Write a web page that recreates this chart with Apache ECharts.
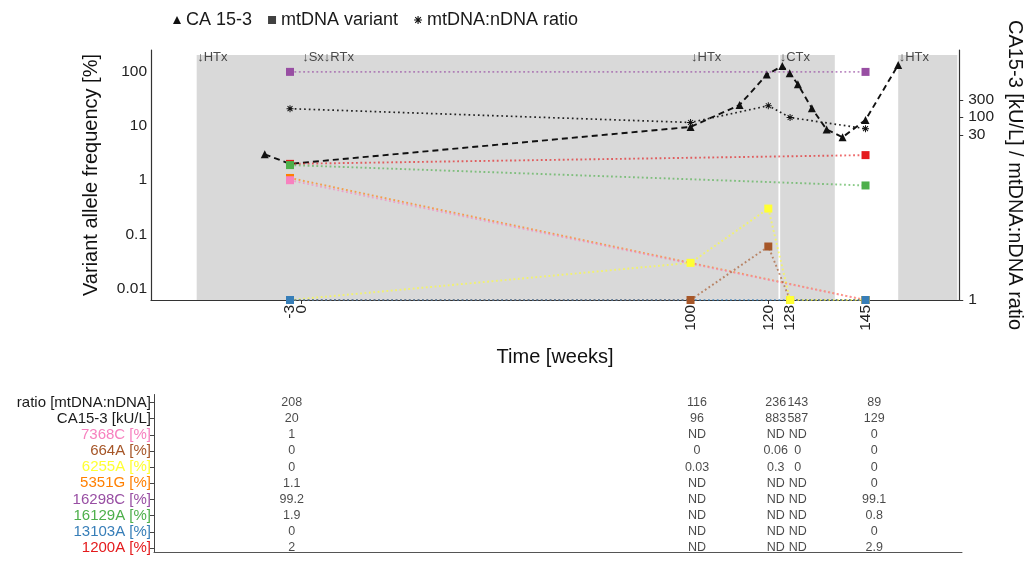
<!DOCTYPE html>
<html><head><meta charset="utf-8">
<script src="https://cdn.jsdelivr.net/npm/echarts@6/dist/echarts.min.js"></script>
<style>html,body{margin:0;padding:0;background:#fff}#c{width:1033px;height:564px}</style>
</head><body><div id="c"></div>
<script>
// ---------------- data ----------------
// sampling time points (x position in weeks as plotted) and their axis labels
const sampleWeeks  = [-3, 100, 120, 125.6, 145];
const xTickWeeks   = [-3, 0, 100, 120, 125.6, 145];
const xTickLabels  = ['-3', '0', '100', '120', '128', '145'];

// variant allele frequencies [%] per sample (null = ND, not determined)
const v7368C  = [1,    null, null, null, 0];
const v664A   = [0,    0,    0.06, 0,    0];
const v6255A  = [0,    0.03, 0.3,  0,    0];
const v5351G  = [1.1,  null, null, null, 0];
const v16298C = [99.2, null, null, null, 99.1];
const v16129A = [1.9,  null, null, null, 0.8];
const v13103A = [0,    null, null, null, 0];
const v1200A  = [2,    null, null, null, 2.9];

// mtDNA:nDNA ratio and CA15-3 [kU/L] per sample (table)
const ratioValues   = [208, 116, 236, 143, 89];
const caTableValues = [20, 96, 883, 587, 129];

// CA 15-3 time course [kU/L] (denser measurements)
const caWeeks  = [-9.5, -3, 100, 112.6, 119.6, 123.6, 125.5, 127.6, 131.2, 135.0, 139.1, 145, 153.4];
const caValues = [30,   20, 96,  243,   883,   1274,  934,   587,   211,   86,    62,    129, 1330];

// treatment annotations
const treatWeeks  = [-27, 0, 100, 122.8, 153.4];
const treatLabels = ['↓HTx', '↓Sx↓RTx', '↓HTx', '↓CTx', '↓HTx'];
const treatPeriods = [[-27, 122.6], [123.05, 137.1], [153.4, 168.6]];

// axis tick labels
const leftTickValues  = [0.01, 0.1, 1, 10, 100];
const leftTickLabels  = ['0.01', '0.1', '1', '10', '100'];
const rightTickLabels = ['1', '30', '100', '300'];

// table rows
const tableRows = ['ratio [mtDNA:nDNA]', 'CA15-3 [kU/L]', '7368C [%]', '664A [%]', '6255A [%]',
                   '5351G [%]', '16298C [%]', '16129A [%]', '13103A [%]', '1200A [%]'];

// ---------------- layout / scales ----------------
const FONT = "'Liberation Sans', Arial, sans-serif";
const X_MIN = -38.75, X_MAX = 169.1;
const Y_MIN = 0.0062, Y_MAX = 251;          // left log axis range
const LOG_MIN = Math.log10(Y_MIN), LOG_MAX = Math.log10(Y_MAX);
const SEC_FACTOR = 10;                       // CA15-3 and ratio drawn as value / 10 on the left scale
const GREY_TOP = 203;
const ANN_Y = 187;
// positions (on the left scale, log10 units) where the right-axis labels sit in the reference
const rightTickAt = [LOG_MIN, 0.831, 1.163, 1.477];

const variantDefs = [
  { name: '1200A',  color: '#E41A1C', values: v1200A },
  { name: '5351G',  color: '#FF7F00', values: v5351G },
  { name: '7368C',  color: '#F781BF', values: v7368C },
  { name: '16129A', color: '#4DAF4A', values: v16129A },
  { name: '664A',   color: '#A65628', values: v664A },
  { name: '6255A',  color: '#FFFF33', values: v6255A },
  { name: '13103A', color: '#377EB8', values: v13103A },
  { name: '16298C', color: '#984EA3', values: v16298C }
];
const rowColors = ['#1a1a1a', '#1a1a1a', '#F781BF', '#A65628', '#FFFF33', '#FF7F00', '#984EA3', '#4DAF4A', '#377EB8', '#E41A1C'];
const tableValues = [ratioValues, caTableValues, v7368C, v664A, v6255A, v5351G, v16298C, v16129A, v13103A, v1200A];

const ASTERISK = 'path://M-5,-0.7L5,-0.7L5,0.7L-5,0.7Z M-0.7,-5L0.7,-5L0.7,5L-0.7,5Z M-4.03,-3.04L-3.04,-4.03L4.03,3.04L3.04,4.03Z M3.04,-4.03L4.03,-3.04L-3.04,4.03L-4.03,3.04Z';

function nearestIdx(arr, v) {
  let bi = 0, bd = Infinity;
  arr.forEach((a, i) => { const d = Math.abs(a - v); if (d < bd) { bd = d; bi = i; } });
  return bi;
}
const tickLabelFmt = v => xTickLabels[nearestIdx(xTickWeeks, v)];
// ticks split over two axes so that the close "-3" and "0" labels are both kept
const xTicksA = xTickWeeks.filter((_, i) => i !== 1);
const xTicksB = [xTickWeeks[1]];

// ---------------- series ----------------
const series = [];

// shaded treatment periods
series.push({
  type: 'line', xAxisIndex: 0, yAxisIndex: 0, z: 1, silent: true,
  data: [[X_MIN, Y_MIN]], showSymbol: false, lineStyle: { opacity: 0 },
  markArea: {
    silent: true, itemStyle: { color: '#D9D9D9' },
    data: treatPeriods.map(p => [{ xAxis: p[0], yAxis: GREY_TOP }, { xAxis: p[1], yAxis: Y_MIN }])
  }
});

// ratio
series.push({
  name: 'mtDNA:nDNA ratio', type: 'line', xAxisIndex: 0, yAxisIndex: 0, z: 3,
  data: sampleWeeks.map((w, i) => [w, ratioValues[i] / SEC_FACTOR]),
  symbol: ASTERISK, symbolSize: 7,
  itemStyle: { color: '#111', borderWidth: 0 },
  lineStyle: { color: '#222', width: 1.7, type: [1.7, 3] }
});

// CA 15-3
series.push({
  name: 'CA 15-3', type: 'line', xAxisIndex: 0, yAxisIndex: 0, z: 3,
  data: caWeeks.map((w, i) => [w, caValues[i] / SEC_FACTOR]),
  symbol: 'triangle', symbolSize: 8,
  itemStyle: { color: '#111', borderWidth: 0 },
  lineStyle: { color: '#111', width: 1.9, type: [6, 4] }
});

// variant lines
variantDefs.forEach(v => {
  const data = [];
  sampleWeeks.forEach((w, i) => {
    const val = v.values[i];
    if (val === null) return;
    data.push([w, val === 0 ? Y_MIN : val]);   // 0 on log scale -> panel edge
  });
  series.push({
    name: v.name, type: 'line', xAxisIndex: 0, yAxisIndex: 0, z: 4, clip: false,
    data: data, symbol: 'rect', symbolSize: 8, showAllSymbol: true,
    itemStyle: { color: v.color, borderWidth: 0 },
    lineStyle: { color: v.color, width: 1.9, type: [1.8, 2.6], opacity: 0.65 }
  });
});

// legend-only entry for variants
series.push({
  name: 'mtDNA variant', type: 'scatter', xAxisIndex: 0, yAxisIndex: 0,
  data: [], symbol: 'rect', itemStyle: { color: '#111' }
});

// treatment annotations
series.push({
  type: 'scatter', xAxisIndex: 0, yAxisIndex: 0, z: 6, silent: true,
  data: treatWeeks.map((w, i) => [w, ANN_Y, treatLabels[i]]),
  symbolSize: 1, itemStyle: { color: 'rgba(0,0,0,0)' },
  label: { show: true, position: 'right', distance: 0, formatter: p => p.data[2],
           fontSize: 13, color: '#222', fontFamily: FONT }
});

// table text
const tableData = [];
tableValues.forEach((row, r) => {
  row.forEach((val, c) => {
    tableData.push([sampleWeeks[c], r, val === null ? 'ND' : String(val)]);
  });
});
series.push({
  type: 'scatter', xAxisIndex: 1, yAxisIndex: 3, silent: true,
  data: tableData, symbolSize: 1, itemStyle: { color: 'rgba(0,0,0,0)' },
  label: { show: true, position: 'inside', formatter: p => p.data[2],
           fontSize: 12.5, color: '#1a1a1a', fontFamily: FONT }
});

// ---------------- option ----------------
const X2_LEFT = 154, X2_RIGHT = 962;
const pxPerWeek = (969 - 151) / (X_MAX - X_MIN);
const X2_MIN = X_MIN + (X2_LEFT - 151) / pxPerWeek;
const X2_MAX = X_MAX - (969 - X2_RIGHT) / pxPerWeek;

const rich = {};
rowColors.forEach((c, i) => { rich['r' + i] = { color: c, fontSize: 15, fontFamily: FONT }; });

const xLabelBase = { show: true, rotate: 90, fontSize: 15.5, color: '#222', margin: 5,
                     showMinLabel: true, showMaxLabel: true, hideOverlap: false, formatter: tickLabelFmt };

const option = {
  animation: false,
  backgroundColor: '#fff',
  textStyle: { fontFamily: FONT },
  legend: {
    left: 168, top: 6, itemWidth: 8, itemHeight: 8, itemGap: 16,
    textStyle: { fontSize: 18, color: '#1a1a1a', fontFamily: FONT },
    data: [
      { name: 'CA 15-3', icon: 'triangle' },
      { name: 'mtDNA variant', icon: 'rect' },
      { name: 'mtDNA:nDNA ratio', icon: ASTERISK }
    ]
  },
  grid: [
    { left: 151, right: 1033 - 969, top: 50, bottom: 564 - 300 },
    { left: X2_LEFT, right: 1033 - X2_RIGHT, top: 394.5, bottom: 3 }
  ],
  xAxis: [
    {
      gridIndex: 0, type: 'value', min: X_MIN, max: X_MAX,
      axisLine: { show: true, onZero: false, lineStyle: { color: '#333', width: 1.2 } },
      axisTick: { show: true, customValues: xTicksA, length: 4, lineStyle: { color: '#333' } },
      axisLabel: Object.assign({ customValues: xTicksA }, xLabelBase),
      splitLine: { show: false },
      name: 'Time [weeks]', nameLocation: 'middle', nameGap: 47,
      nameTextStyle: { fontSize: 20, color: '#111', fontFamily: FONT }
    },
    {
      gridIndex: 1, type: 'value', min: X2_MIN, max: X2_MAX,
      axisLine: { show: true, onZero: false, lineStyle: { color: '#555', width: 1 } },
      axisTick: { show: false }, axisLabel: { show: false }, splitLine: { show: false }
    },
    {
      gridIndex: 0, type: 'value', min: X_MIN, max: X_MAX, position: 'bottom',
      axisLine: { show: false, onZero: false },
      axisTick: { show: true, customValues: xTicksB, length: 4, lineStyle: { color: '#333' } },
      axisLabel: Object.assign({ customValues: xTicksB }, xLabelBase),
      splitLine: { show: false }
    }
  ],
  yAxis: [
    {
      gridIndex: 0, type: 'log', logBase: 10, min: Y_MIN, max: Y_MAX,
      axisLine: { show: true, onZero: false, lineStyle: { color: '#333', width: 1.2 } },
      axisTick: { show: false }, axisLabel: { show: false }, splitLine: { show: false },
      name: 'Variant allele frequency [%]', nameLocation: 'middle', nameGap: 50, nameRotate: 90,
      nameTextStyle: { fontSize: 20, color: '#111', fontFamily: FONT }
    },
    {
      gridIndex: 0, type: 'value', position: 'left', min: LOG_MIN, max: LOG_MAX,
      axisLine: { show: false },
      axisTick: { show: true, customValues: leftTickValues.map(Math.log10), length: 4, lineStyle: { color: '#333' } },
      axisLabel: { show: true, customValues: leftTickValues.map(Math.log10), fontSize: 15.5, color: '#222', margin: 4,
                   showMinLabel: true, showMaxLabel: true,
                   formatter: v => leftTickLabels[nearestIdx(leftTickValues.map(Math.log10), v)] },
      splitLine: { show: false }
    },
    {
      gridIndex: 0, type: 'value', position: 'right', min: LOG_MIN, max: LOG_MAX,
      axisLine: { show: true, onZero: false, lineStyle: { color: '#333', width: 1.2 } },
      axisTick: { show: true, customValues: rightTickAt, length: 4, lineStyle: { color: '#333' } },
      axisLabel: { show: true, customValues: rightTickAt, fontSize: 15.5, color: '#222', margin: 9,
                   showMinLabel: true, showMaxLabel: true,
                   formatter: v => rightTickLabels[nearestIdx(rightTickAt, v)] },
      splitLine: { show: false },
      name: 'CA15-3 [kU/L] / mtDNA:nDNA ratio', nameLocation: 'middle', nameGap: 42, nameRotate: -90,
      nameTextStyle: { fontSize: 20, color: '#111', fontFamily: FONT }
    },
    {
      gridIndex: 1, type: 'value', inverse: true, min: -0.5, max: 9.25,
      axisLine: { show: true, onZero: false, lineStyle: { color: '#444', width: 1 } },
      axisTick: { show: true, customValues: tableRows.map((_, i) => i), length: 4, lineStyle: { color: '#444' } },
      axisLabel: { show: true, customValues: tableRows.map((_, i) => i), margin: 3,
                   showMinLabel: true, showMaxLabel: true,
                   formatter: v => { const i = Math.round(v); return '{r' + i + '|' + tableRows[i] + '}'; },
                   rich: rich },
      splitLine: { show: false }
    }
  ],
  series: series
};

const chart = echarts.init(document.getElementById('c'), null, { renderer: 'canvas' });
chart.setOption(option);
</script>
</body></html>
